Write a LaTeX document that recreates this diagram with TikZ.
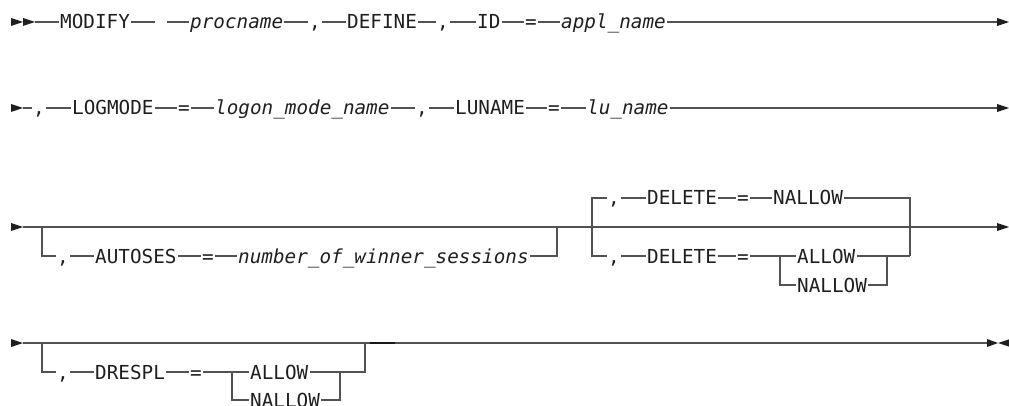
\documentclass[tikz,border=0pt]{standalone}
\usepackage{fontspec}
\newfontfamily\diafam{DejaVu Sans Mono}
\newcommand{\kwf}{\diafam\fontsize{19.3pt}{20pt}\selectfont}
\newcommand{\varf}{\diafam\itshape\fontsize{19.3pt}{20pt}\selectfont}
\tikzset{
  kw/.style={font=\kwf, inner xsep=1pt, inner ysep=0pt, text height=14pt, text depth=0pt, anchor=west, text=black!88},
  var/.style={kw, font=\varf},
  ln/.style={line width=1.2pt, draw=black!68},
  tip/.style={fill=black!88, draw=none}
}
\begin{document}
\begin{tikzpicture}[x=1pt,y=-1pt]
\useasboundingbox (0,0) rectangle (1009,406);
% ---------- Row 1 ----------
\fill[tip] (11,18)--(23,22)--(11,26)--cycle;
\fill[tip] (23,18)--(35,22)--(23,26)--cycle;
\coordinate (r1s) at (35,22);
\node[kw]  (r1a) at (59,22) {MODIFY};
\coordinate (r1g1) at (155,22);
\coordinate (r1g2) at (167,22);
\node[var] (r1b) at (189,22) {procname};
\node[kw]  (r1c) at (308,22) {,};
\node[kw]  (r1d) at (346,22) {DEFINE};
\node[kw]  (r1e) at (436,22) {,};
\node[kw]  (r1f) at (476,22) {ID};
\node[kw]  (r1g) at (524,22) {=};
\node[var] (r1h) at (560,22) {appl\_name};
\coordinate (r1end) at (997,22);
\draw[ln] (r1s) -- (r1a.west);
\draw[ln] (r1a.east) -- (r1g1);
\draw[ln] (r1g2) -- (r1b.west);
\draw[ln] (r1b.east) -- (r1c.west);
\draw[ln] (r1c.east) -- (r1d.west);
\draw[ln] (r1d.east) -- (r1e.west);
\draw[ln] (r1e.east) -- (r1f.west);
\draw[ln] (r1f.east) -- (r1g.west);
\draw[ln] (r1g.east) -- (r1h.west);
\draw[ln] (r1h.east) -- (r1end);
\fill[tip] (997,18)--(1009,22)--(997,26)--cycle;
% ---------- Row 2 ----------
\fill[tip] (11,104)--(23,108)--(11,112)--cycle;
\coordinate (r2s) at (23,108);
\node[kw]  (r2a) at (32,108) {,};
\node[kw]  (r2b) at (71,108) {LOGMODE};
\node[kw]  (r2c) at (177,108) {=};
\node[var] (r2d) at (214,108) {logon\_mode\_name};
\node[kw]  (r2e) at (415,108) {,};
\node[kw]  (r2f) at (454,108) {LUNAME};
\node[kw]  (r2g) at (547,108) {=};
\node[var] (r2h) at (586,108) {lu\_name};
\coordinate (r2end) at (997,108);
\draw[ln] (r2s) -- (r2a.west);
\draw[ln] (r2a.east) -- (r2b.west);
\draw[ln] (r2b.east) -- (r2c.west);
\draw[ln] (r2c.east) -- (r2d.west);
\draw[ln] (r2d.east) -- (r2e.west);
\draw[ln] (r2e.east) -- (r2f.west);
\draw[ln] (r2f.east) -- (r2g.west);
\draw[ln] (r2g.east) -- (r2h.west);
\draw[ln] (r2h.east) -- (r2end);
\fill[tip] (997,104)--(1009,108)--(997,112)--cycle;
% ---------- Row 3 ----------
\fill[tip] (11,223)--(23,227)--(11,231)--cycle;
\coordinate (r3s) at (23,227);
\coordinate (r3end) at (997,227);
\draw[ln] (r3s) -- (r3end);
\fill[tip] (997,223)--(1009,227)--(997,231)--cycle;
% optional AUTOSES
\coordinate (b1l) at (42,227);
\node[kw]  (r3a) at (56,256) {,};
\node[kw]  (r3b) at (94,256) {AUTOSES};
\node[kw]  (r3c) at (201,256) {=};
\node[var] (r3d) at (237,256) {number\_of\_winner\_sessions};
\coordinate (b1r) at (557,227);
\draw[ln] (b1l) |- (r3a.west);
\draw[ln] (r3a.east) -- (r3b.west);
\draw[ln] (r3b.east) -- (r3c.west);
\draw[ln] (r3c.east) -- (r3d.west);
\draw[ln] (r3d.east) -| (b1r);
% DELETE choice
\coordinate (b2l) at (592,227);
\coordinate (b2rb) at (910,256);
\node[kw]  (r3f) at (607,198) {,};
\node[kw]  (r3g) at (646,198) {DELETE};
\node[kw]  (r3h) at (736,198) {=};
\node[kw]  (r3i) at (772,198) {NALLOW};
\node[kw]  (r3k) at (607,256) {,};
\node[kw]  (r3l) at (646,256) {DELETE};
\node[kw]  (r3m) at (736,256) {=};
\node[kw]  (r3n) at (796,256) {ALLOW};
\node[kw]  (r3o) at (796,285) {NALLOW};
\coordinate (n1l) at (780,256);
\coordinate (n1r) at (887,256);
\draw[ln] (r3f.west) -| (b2l) |- (r3k.west);
\draw[ln] (r3f.east) -- (r3g.west);
\draw[ln] (r3g.east) -- (r3h.west);
\draw[ln] (r3h.east) -- (r3i.west);
\draw[ln] (r3i.east) -| (b2rb);
\draw[ln] (r3k.east) -- (r3l.west);
\draw[ln] (r3l.east) -- (r3m.west);
\draw[ln] (r3m.east) -- (r3n.west);
\draw[ln] (n1l) |- (r3o.west);
\draw[ln] (r3n.east) -- (b2rb);
\draw[ln] (r3o.east) -| (n1r);
% ---------- Row 4 ----------
\fill[tip] (11,339)--(23,343)--(11,347)--cycle;
\coordinate (r4s) at (23,343);
\coordinate (r4end) at (987,343);
\draw[ln] (r4s) -- (r4end);
\draw[line width=1.8pt, draw=black!90] (370,343) -- (395,343);
\fill[tip] (987,339)--(998,343)--(987,347)--cycle;
\fill[tip] (1010,339)--(998,343)--(1010,347)--cycle;
\coordinate (b3l) at (42,343);
\node[kw]  (r4a) at (56,372) {,};
\node[kw]  (r4b) at (94,372) {DRESPL};
\node[kw]  (r4c) at (189,372) {=};
\node[kw]  (r4d) at (249,372) {ALLOW};
\node[kw]  (r4e) at (249,400) {NALLOW};
\coordinate (n2l) at (232,372);
\coordinate (n2r) at (340,372);
\coordinate (b3r) at (365,343);
\draw[ln] (b3l) |- (r4a.west);
\draw[ln] (r4a.east) -- (r4b.west);
\draw[ln] (r4b.east) -- (r4c.west);
\draw[ln] (r4c.east) -- (r4d.west);
\draw[ln] (n2l) |- (r4e.west);
\draw[ln] (r4d.east) -- (n2r) -| (b3r);
\draw[ln] (r4e.east) -| (n2r);
\end{tikzpicture}
\end{document}
